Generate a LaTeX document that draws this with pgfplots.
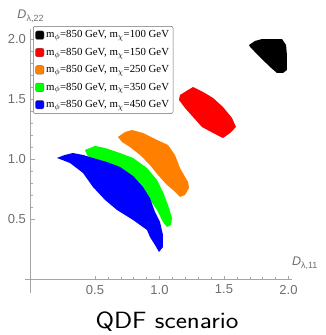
\documentclass[border=0pt]{standalone}
\usepackage{fontspec}
\usepackage{pgfplots}
\pgfplotsset{compat=1.18}
\newfontfamily\lsans{Liberation Sans}
\newfontfamily\lserif{Liberation Serif}
\definecolor{tickgray}{RGB}{110,110,110}
\definecolor{axgray}{RGB}{165,165,165}
\definecolor{mmorange}{RGB}{255,128,0}
\definecolor{mmgreen}{RGB}{0,255,0}
\definecolor{mmblue}{RGB}{0,0,255}
\definecolor{mmred}{RGB}{255,0,0}
\begin{document}
\begin{tikzpicture}
\path[use as bounding box] (0,0) rectangle (325pt,-335pt);
\begin{axis}[
  x=129pt, y=120pt,
  anchor=origin, at={(30.5pt,-279.5pt)},
  xmin=-0.04, xmax=2.03, ymin=-0.11, ymax=2.09,
  axis lines=middle,
  axis line style={draw=axgray, line width=0.5pt, -},
  xtick={0.5,1,1.5,2}, ytick={0.5,1,1.5,2},
  minor tick num=4,
  tick style={draw=axgray, line width=0.5pt},
  major tick length=4pt, minor tick length=2.5pt,
  tick align=inside,
  /pgf/number format/assume math mode=true,
  /pgf/number format/fixed, /pgf/number format/fixed zerofill,
  /pgf/number format/precision=1,
  tick label style={font=\lsans\fontsize{13}{13}\selectfont, text=tickgray},
  xticklabel style={anchor=north, yshift=-2pt},
  yticklabel style={anchor=east, xshift=-1pt},
  xlabel={\lsans\itshape D\raisebox{-0.45ex}{\upshape\fontsize{9}{9}\selectfont λ,11}},
  ylabel={\lsans\itshape D\raisebox{-0.45ex}{\upshape\fontsize{9}{9}\selectfont λ,22}},
  label style={text=tickgray, font=\fontsize{12.5}{12.5}\selectfont},
  x label style={at={(axis cs:2.03,0)}, anchor=base west, yshift=14pt, xshift=-0.5pt, inner sep=0pt},
  y label style={at={(axis cs:0,2.09)}, anchor=base, yshift=10pt, inner sep=0pt, rotate=0},
  clip=false,
  legend cell align=left,
  legend image code/.code={\draw[#1, draw=black!60, line width=0.3pt] (0pt,-4.3pt) rectangle (8.6pt,4.3pt);},
  legend style={at={(0.0288,1.010)}, anchor=north west, draw=tickgray, line width=0.5pt,
    rounded corners=2pt, font=\lserif\fontsize{10.8}{10.8}\selectfont,
    inner xsep=2pt, inner ysep=3.5pt, row sep=6.7pt,
    nodes={inner xsep=2pt, inner ysep=1pt}},
]
% black: m_chi = 100 GeV
\addplot[fill=black, draw=none] coordinates {
(1.694,1.954) (1.740,1.988) (1.795,2.004) (1.950,2.004) (1.981,1.954) (1.988,1.871)
(1.988,1.746) (1.957,1.721) (1.911,1.721) (1.857,1.771) (1.802,1.829) (1.740,1.896) (1.702,1.938)} -- cycle;
\addlegendentry{m$_\phi$=850 GeV, m$_\chi$=100 GeV}
% red: 150 GeV
\addplot[fill=mmred, draw=none] coordinates {
(1.260,1.604) (1.221,1.579) (1.159,1.538) (1.151,1.496) (1.198,1.429) (1.260,1.354)
(1.329,1.271) (1.415,1.221) (1.492,1.179) (1.547,1.221) (1.593,1.271) (1.562,1.346)
(1.492,1.438) (1.415,1.513) (1.337,1.563)} -- cycle;
\addlegendentry{m$_\phi$=850 GeV, m$_\chi$=150 GeV}
% orange: 250 GeV
\addplot[fill=mmorange, draw=none] coordinates {
(0.678,1.188) (0.733,1.229) (0.787,1.246) (0.872,1.221) (0.981,1.163) (1.066,1.121)
(1.120,1.038) (1.159,0.929) (1.221,0.813) (1.229,0.763) (1.198,0.704) (1.159,0.688)
(1.105,0.746) (1.058,0.788) (0.988,0.871) (0.926,0.954) (0.849,1.038) (0.771,1.104) (0.709,1.146)} -- cycle;
\addlegendentry{m$_\phi$=850 GeV, m$_\chi$=250 GeV}
% green: 350 GeV
\addplot[fill=mmgreen, draw=none] coordinates {
(0.422,1.079) (0.500,1.113) (0.578,1.096) (0.694,1.054) (0.795,1.013) (0.903,0.929)
(0.981,0.829) (1.027,0.729) (1.066,0.621) (1.097,0.513) (1.089,0.454) (1.058,0.438)
(1.027,0.479) (0.981,0.579) (0.926,0.663) (0.771,0.788) (0.616,0.896) (0.500,0.979) (0.438,1.038)} -- cycle;
\addlegendentry{m$_\phi$=850 GeV, m$_\chi$=350 GeV}
% blue: 450 GeV
\addplot[fill=mmblue, draw=none] coordinates {
(0.205,1.013) (0.267,1.038) (0.329,1.054) (0.407,1.038) (0.484,1.013) (0.593,0.979)
(0.694,0.938) (0.795,0.863) (0.872,0.771) (0.926,0.679) (0.965,0.563) (1.004,0.479)
(1.027,0.371) (1.027,0.271) (0.996,0.229) (0.965,0.288) (0.926,0.354) (0.903,0.413)
(0.795,0.496) (0.671,0.579) (0.578,0.663) (0.484,0.771) (0.407,0.888) (0.306,0.971)} -- cycle;
\addlegendentry{m$_\phi$=850 GeV, m$_\chi$=450 GeV}
\end{axis}
\node[anchor=base, inner sep=0pt, font=\sffamily\fontsize{23.5}{23.5}\selectfont, xscale=1.14] at (167pt,-328.5pt) {QDF scenario};
\end{tikzpicture}
\end{document}
